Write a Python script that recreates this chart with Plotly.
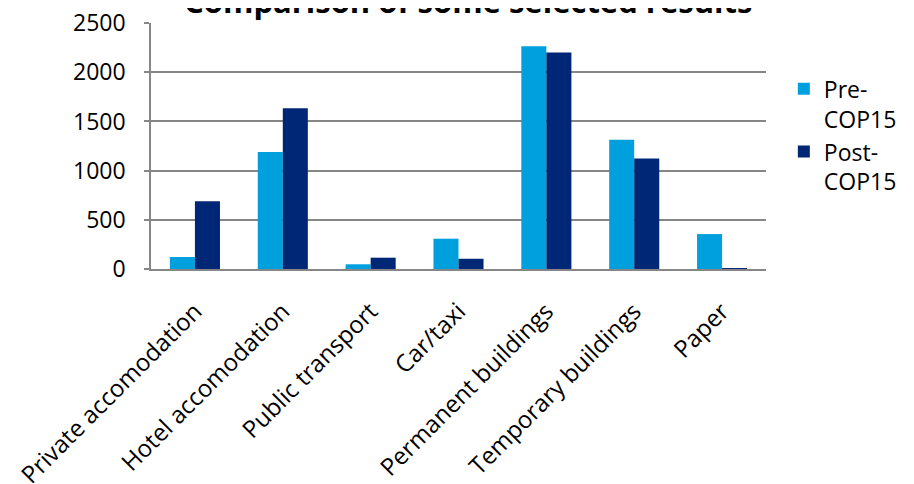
import plotly.graph_objects as go

categories = ["Private accomodation", "Hotel accomodation", "Public transport", "Car/taxi",
              "Permanent buildings", "Temporary buildings", "Paper"]
pre_cop15 = [122, 1190, 48, 308, 2265, 1315, 355]
post_cop15 = [688, 1635, 115, 104, 2200, 1123, 10]
series_names = ["Pre-<br>COP15", "Post-<br>COP15"]
y_ticks = [0, 500, 1000, 1500, 2000, 2500]

FONT = "Open Sans"

fig = go.Figure()
fig.add_trace(go.Bar(x=categories, y=pre_cop15, name=series_names[0],
                     marker=dict(color="#00A0DF", line=dict(width=0))))
fig.add_trace(go.Bar(x=categories, y=post_cop15, name=series_names[1],
                     marker=dict(color="#002776", line=dict(width=0))))

fig.update_layout(
    width=914, height=484,
    margin=dict(l=143, r=156, t=15, b=223, autoexpand=False),
    paper_bgcolor="white", plot_bgcolor="white",
    barmode="group", bargap=0.43, bargroupgap=0,
    font=dict(family=FONT, color="black", size=23),
    legend=dict(x=1.029, y=0.82, xanchor="left", yanchor="top", valign="top",
                font=dict(family=FONT, size=23, color="black"),
                tracegroupgap=6, bgcolor="rgba(0,0,0,0)"),
    showlegend=True,
)
fig.add_annotation(text="<b>Comparison of some selected results</b>",
                   xref="paper", yref="paper", x=0.516, y=1.088,
                   xanchor="center", yanchor="middle", showarrow=False,
                   font=dict(family=FONT, size=31, color="black"))
fig.update_xaxes(showline=True, linecolor="#868686", linewidth=1.5,
                 tickangle=-45, ticks="", showgrid=False, automargin=False,
                 ticklabelstandoff=17,
                 tickfont=dict(family=FONT, size=24))
fig.update_yaxes(range=[0, 2501], tickvals=y_ticks, showgrid=True, gridcolor="#868686",
                 gridwidth=1.5, showline=True, linecolor="#868686", linewidth=1.5,
                 ticks="outside", ticklen=5, tickcolor="#868686", tickwidth=1.5,
                 ticklabelstandoff=14, automargin=False, ticklabeloverflow="allow",
                 zeroline=False, tickfont=dict(family=FONT, size=23))

fig.write_html("out.html")
